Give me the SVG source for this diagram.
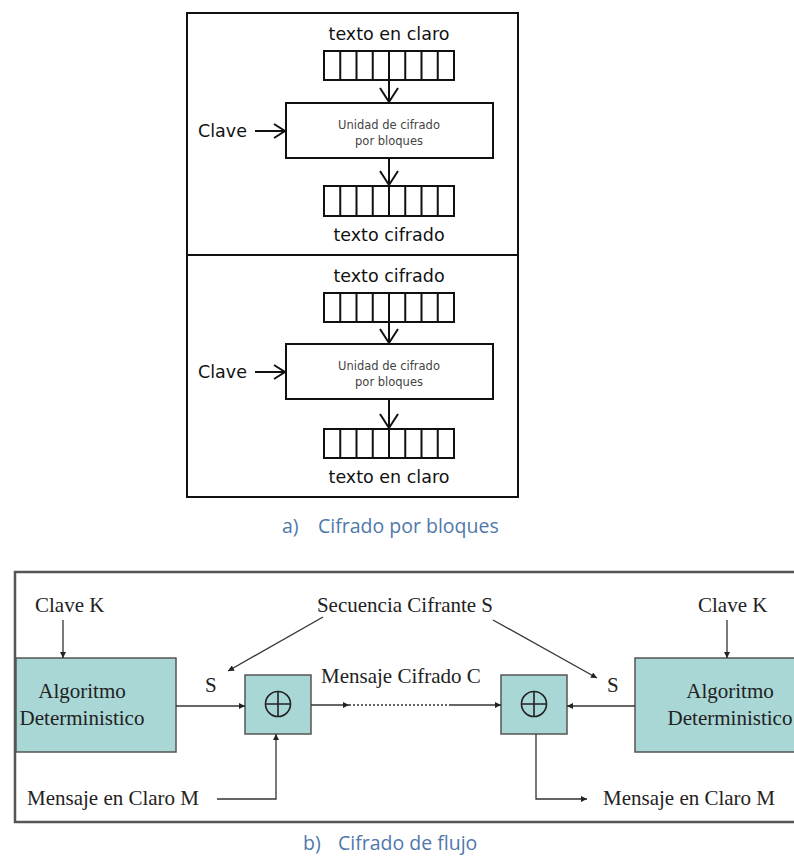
<svg xmlns="http://www.w3.org/2000/svg" width="794" height="857" viewBox="0 0 794 857">
<defs>
<style>
.sans{font-family:"DejaVu Sans",sans-serif;fill:#111}
.big{font-size:17.5px}
.small{font-size:11.5px;fill:#444}
.blk{fill:none;stroke:#111;stroke-width:2}
.serif{font-family:"Liberation Serif","Times New Roman",serif;font-size:21px;fill:#222}
.cap{font-family:"Open Sans","Liberation Sans",sans-serif;font-size:19.5px;fill:#4f78ab}
.ln{fill:none;stroke:#333;stroke-width:1.3}
.teal{fill:#a9d7d6;stroke:#555;stroke-width:1.5}
</style>
<marker id="ah" viewBox="0 0 10 10" refX="10" refY="5" markerWidth="7" markerHeight="6" markerUnits="userSpaceOnUse" orient="auto">
<path d="M0,0 L10,5 L0,10 z" fill="#222"/>
</marker>
</defs>
<rect width="794" height="857" fill="#fff"/>

<!-- a) block cipher -->
<g id="frameA">
<rect x="187" y="13" width="331" height="484" class="blk"/>
<line x1="187" y1="255" x2="518" y2="255" class="blk"/>
</g>

<g id="enc">
<text class="sans big" x="389" y="40" text-anchor="middle">texto en claro</text>
<g id="encIn" class="blk">
<rect x="324" y="51" width="130" height="29"/>
<path d="M340.25,51V80M356.5,51V80M372.75,51V80M389,51V80M405.25,51V80M421.5,51V80M437.75,51V80"/>
</g>
<g id="encUnit">
<rect x="286" y="103" width="207" height="55" class="blk"/>
<text class="sans small" x="389" y="129" text-anchor="middle">Unidad de cifrado</text>
<text class="sans small" x="389" y="145" text-anchor="middle">por bloques</text>
</g>
<text class="sans big" x="198" y="137">Clave</text>
<g id="encOut" class="blk">
<rect x="324" y="186" width="130" height="30"/>
<path d="M340.25,186V216M356.5,186V216M372.75,186V216M389,186V216M405.25,186V216M421.5,186V216M437.75,186V216"/>
</g>
<text class="sans big" x="389" y="241" text-anchor="middle">texto cifrado</text>
</g>

<g id="dec">
<text class="sans big" x="389" y="282" text-anchor="middle">texto cifrado</text>
<g id="decIn" class="blk">
<rect x="324" y="293" width="130" height="29"/>
<path d="M340.25,293V322M356.5,293V322M372.75,293V322M389,293V322M405.25,293V322M421.5,293V322M437.75,293V322"/>
</g>
<g id="decUnit">
<rect x="286" y="344" width="207" height="55" class="blk"/>
<text class="sans small" x="389" y="370" text-anchor="middle">Unidad de cifrado</text>
<text class="sans small" x="389" y="386" text-anchor="middle">por bloques</text>
</g>
<text class="sans big" x="198" y="378">Clave</text>
<g id="decOut" class="blk">
<rect x="324" y="429" width="130" height="29"/>
<path d="M340.25,429V458M356.5,429V458M372.75,429V458M389,429V458M405.25,429V458M421.5,429V458M437.75,429V458"/>
</g>
<text class="sans big" x="389" y="483" text-anchor="middle">texto en claro</text>
</g>

<g id="connectorsA" class="blk">
<path d="M389,80V102M380,88L389,102L398,88"/>
<path d="M255,131H285M274,124L285,131L274,138"/>
<path d="M389,158V185M380,171L389,185L398,171"/>
<path d="M389,322V343M380,329L389,343L398,329"/>
<path d="M255,372H285M274,365L285,372L274,379"/>
<path d="M389,399V428M380,414L389,428L398,414"/>
</g>

<text class="cap" x="282" y="533">a)</text>
<text class="cap" x="318" y="533">Cifrado por bloques</text>

<!-- b) stream cipher -->
<g id="frameB">
<rect x="15" y="572" width="800" height="250" fill="none" stroke="#555" stroke-width="2.5"/>
</g>

<g id="algL">
<rect x="16" y="658" width="160" height="94" class="teal"/>
<text class="serif" x="82" y="698" text-anchor="middle">Algoritmo</text>
<text class="serif" x="82" y="725" text-anchor="middle">Deterministico</text>
</g>
<g id="xorL">
<rect x="245" y="675" width="66" height="59" class="teal"/>
<circle cx="278" cy="704" r="12.5" fill="none" stroke="#222" stroke-width="1.6"/>
<path d="M265.5,704H290.5M278,691.5V716.5" stroke="#222" stroke-width="1.6"/>
</g>
<g id="xorR">
<rect x="501" y="675" width="66" height="59" class="teal"/>
<circle cx="534" cy="704" r="12.5" fill="none" stroke="#222" stroke-width="1.6"/>
<path d="M521.5,704H546.5M534,691.5V716.5" stroke="#222" stroke-width="1.6"/>
</g>
<g id="algR">
<rect x="635" y="658" width="180" height="94" class="teal"/>
<text class="serif" x="730" y="698" text-anchor="middle">Algoritmo</text>
<text class="serif" x="730" y="725" text-anchor="middle">Deterministico</text>
</g>

<g id="labelsB">
<text class="serif" x="35" y="612">Clave K</text>
<text class="serif" x="698" y="612">Clave K</text>
<text class="serif" x="405" y="612" text-anchor="middle">Secuencia Cifrante S</text>
<text class="serif" x="205" y="692">S</text>
<text class="serif" x="607" y="692">S</text>
<text class="serif" x="321" y="683">Mensaje Cifrado C</text>
<text class="serif" x="27" y="805">Mensaje en Claro M</text>
<text class="serif" x="603" y="805">Mensaje en Claro M</text>
</g>

<g id="connectorsB" class="ln">
<path d="M63,620V658" marker-end="url(#ah)"/>
<path d="M727,620V658" marker-end="url(#ah)"/>
<path d="M176,706H245" marker-end="url(#ah)"/>
<path d="M635,706H567" marker-end="url(#ah)"/>
<path d="M323,617L228,671" marker-end="url(#ah)"/>
<path d="M493,620L597,678" marker-end="url(#ah)"/>
<path d="M311,705H349" marker-end="url(#ah)"/>
<path d="M349,705H450" stroke-dasharray="2,2"/>
<path d="M450,705H501" marker-end="url(#ah)"/>
<path d="M217,799H276V734" marker-end="url(#ah)"/>
<path d="M536,734V799H587" marker-end="url(#ah)"/>
</g>

<text class="cap" x="303" y="850">b)</text>
<text class="cap" x="338" y="850">Cifrado de flujo</text>
</svg>
